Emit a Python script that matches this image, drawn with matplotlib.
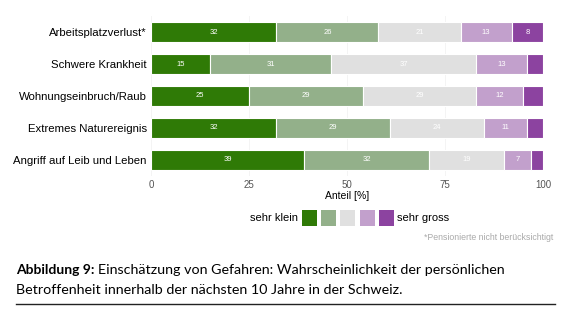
import matplotlib.pyplot as plt
import numpy as np
from matplotlib.patches import Rectangle

plt.rcParams['font.family'] = ['Liberation Sans', 'DejaVu Sans']

kategorien = ['Arbeitsplatzverlust*', 'Schwere Krankheit', 'Wohnungseinbruch/Raub',
              'Extremes Naturereignis', 'Angriff auf Leib und Leben']
sehr_klein = [32, 15, 25, 32, 39]
klein = [26, 31, 29, 29, 32]
mittel = [21, 37, 29, 24, 19]
gross = [13, 13, 12, 11, 7]
sehr_gross = [8, 4, 5, 4, 3]

farben = ['#2f7a06', '#93b08a', '#e0e0e0', '#c2a0cc', '#8c43a0']
reihen = [sehr_klein, klein, mittel, gross, sehr_gross]

fig = plt.figure(figsize=(5.82, 3.21), dpi=100)
ax = fig.add_axes([0.2595, 0.452, 0.6735, 0.498])

y = np.arange(len(kategorien))
links = np.zeros(len(kategorien))
for werte, farbe in zip(reihen, farben):
    werte = np.array(werte, dtype=float)
    ax.barh(y, werte, left=links, height=0.6, color=farbe, edgecolor='white', linewidth=0.8, zorder=2)
    for yi, l, w in zip(y, links, werte):
        if w >= 6:
            ax.text(l + w / 2, yi, '%d' % w, ha='center', va='center', color='white', fontsize=5.5, zorder=3)
    links += werte

ax.set_xlim(0, 100)
ax.set_ylim(len(kategorien) - 0.5, -0.5)
ax.set_yticks(y)
ax.set_yticklabels(kategorien, fontsize=8.2)
ax.set_xticks([0, 25, 50, 75, 100])
ax.tick_params(axis='x', labelsize=7, length=0, pad=3, colors='#555555')
ax.tick_params(axis='y', length=0, pad=3)
ax.set_xlabel('Anteil [%]', fontsize=7.5, labelpad=1)
for s in ax.spines.values():
    s.set_visible(False)
ax.grid(axis='x', color='#f2f2f2', linewidth=0.6, zorder=0)
ax.set_axisbelow(True)

# Legende
fig.text(298 / 582, 1 - 218 / 321, 'sehr klein', ha='right', va='center', fontsize=8)
for i, farbe in enumerate(farben):
    x0 = (302 + i * 19.2) / 582
    fig.patches.append(Rectangle((x0, 1 - 226 / 321), 15 / 582, 16 / 321, transform=fig.transFigure,
                                 facecolor=farbe, edgecolor='none'))
fig.text(397 / 582, 1 - 218 / 321, 'sehr gross', ha='left', va='center', fontsize=8)
fig.text(553 / 582, 1 - 237 / 321, '*Pensionierte nicht berücksichtigt', ha='right', va='center',
         fontsize=6.3, color='#aaaaaa')

# Bildunterschrift
fett = fig.text(16 / 582, 1 - 270 / 321, 'Abbildung 9:', ha='left', va='center', fontsize=10,
                fontweight='bold', family='Lato')
r = fig.canvas.get_renderer()
x_ende = fett.get_window_extent(renderer=r).x1 / (5.82 * 100)
fig.text(x_ende + 4 / 582, 1 - 270 / 321, 'Einschätzung von Gefahren: Wahrscheinlichkeit der persönlichen',
         ha='left', va='center', fontsize=10.3, family='Lato')
fig.text(16 / 582, 1 - 290 / 321, 'Betroffenheit innerhalb der nächsten 10 Jahre in der Schweiz.',
         ha='left', va='center', fontsize=10.3, family='Lato')
fig.add_artist(plt.Line2D([16 / 582, 555 / 582], [1 - 304 / 321, 1 - 304 / 321], color='#222222', linewidth=1))

fig.savefig('out.png', dpi=100)
